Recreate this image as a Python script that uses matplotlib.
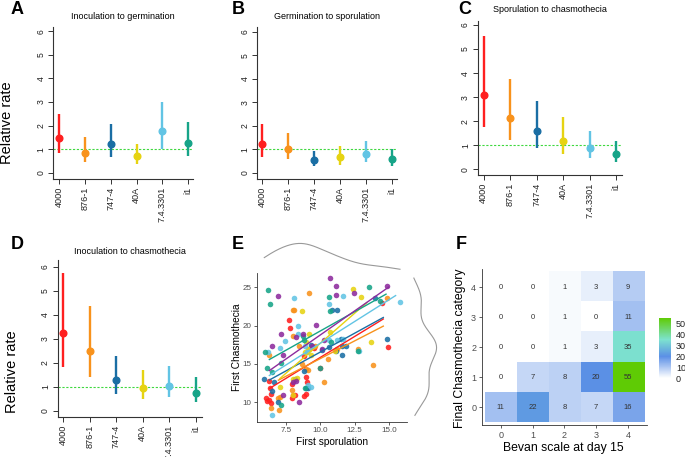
'''multi-panel figure: relative rates per strain, sporulation vs chasmothecia, Bevan heatmap'''
import numpy as np
import matplotlib
matplotlib.use('Agg')
import matplotlib.pyplot as plt
from matplotlib.colors import LinearSegmentedColormap

plt.rcParams['font.family'] = ['Liberation Sans', 'DejaVu Sans']

W, H = 685, 457

strains = ['4000', '876-1', '747-4', '40A', '7.4.3301', 'i1']
strain_colors = ['#FF1F1F', '#F8921C', '#1A6EA4', '#E6D312', '#62C4E4', '#17A488']
other_color = '#8D2B9D'

# A: inoculation to germination
germ_est = [1.46, 0.85, 1.20, 0.69, 1.77, 1.25]
germ_lo = [0.82, 0.47, 0.68, 0.37, 1.02, 0.71]
germ_hi = [2.48, 1.50, 2.05, 1.20, 3.00, 2.14]
# B: germination to sporulation
spor_est = [1.22, 1.01, 0.53, 0.65, 0.78, 0.57]
spor_lo = [0.68, 0.57, 0.28, 0.34, 0.44, 0.30]
spor_hi = [2.08, 1.71, 0.94, 1.15, 1.34, 1.01]
# C: sporulation to chasmothecia
chas_est = [3.10, 2.15, 1.59, 1.19, 0.89, 0.62]
chas_lo = [1.75, 1.22, 0.87, 0.64, 0.46, 0.32]
chas_hi = [5.54, 3.74, 2.85, 2.19, 1.58, 1.19]
# D: inoculation to chasmothecia
total_est = [3.25, 2.49, 1.28, 0.93, 1.04, 0.74]
total_lo = [1.83, 1.42, 0.69, 0.49, 0.57, 0.36]
total_hi = [5.72, 4.36, 2.28, 1.69, 1.86, 1.39]

# E: first sporulation (x) vs first chasmothecia (y), per group
x_4000 = [7.74, 7.81, 6.23, 6.30, 6.06, 6.23, 6.40, 6.38, 7.93, 8.98, 9.03, 9.95, 7.99, 8.17,
          7.93, 8.98, 8.79, 9.52, 14.50, 14.96, 8.79, 6.14]
y_4000 = [20.7, 19.7, 12.8, 11.85, 10.6, 10.3, 11.1, 9.9, 12.35, 13.3, 12.6, 14.5, 11.0, 10.95,
          10.6, 11.05, 16.0, 17.1, 23.0, 17.2, 10.8, 10.2]
x_876 = [9.15, 7.98, 8.10, 7.98, 6.28, 8.45, 9.20, 9.59, 10.54, 10.29, 13.85, 12.78, 14.85,
         6.40, 6.96, 7.03, 6.89, 7.91, 8.69, 9.13, 8.95, 11.20]
y_876 = [24.3, 22.1, 22.1, 18.65, 16.2, 17.4, 16.9, 17.4, 15.7, 12.6, 14.9, 17.0, 23.6,
         9.3, 9.0, 10.7, 10.6, 11.6, 15.0, 14.2, 14.3, 16.9]
x_747 = [5.91, 6.45, 6.60, 10.83, 11.20, 14.00, 14.90, 11.51, 11.56, 11.90, 11.13, 11.56,
         10.10, 9.32, 8.81, 8.96, 9.08, 8.16, 6.94, 10.60]
y_747 = [13.0, 11.5, 12.6, 22.0, 22.1, 23.6, 18.3, 18.3, 17.4, 17.3, 16.7, 16.2,
         16.8, 17.5, 14.1, 11.9, 11.85, 13.1, 10.1, 17.2]
x_40a = [12.40, 12.95, 8.66, 10.71, 13.68, 7.03, 7.99, 8.28, 9.20, 8.98, 8.91, 9.30, 11.08,
         8.04, 9.10]
y_40a = [24.8, 23.7, 21.95, 19.2, 17.9, 12.05, 13.1, 13.2, 18.9, 17.8, 16.6, 16.2, 16.7,
         10.95, 17.0]
x_7433 = [8.06, 11.63, 10.60, 15.82, 8.35, 8.35, 7.40, 7.03, 6.47, 11.24, 11.68, 12.83, 9.13,
          10.64, 6.16, 8.90, 9.00, 9.30]
y_7433 = [23.6, 23.9, 22.8, 23.1, 19.95, 18.9, 18.0, 17.1, 8.3, 18.1, 18.3, 16.7, 12.3,
          18.1, 16.6, 17.3, 16.5, 12.0]
x_i1 = [6.16, 6.30, 5.94, 6.11, 6.47, 13.58, 10.60, 10.74, 10.78, 9.96, 8.71, 12.78, 14.36,
        7.13, 8.84, 8.91, 7.10]
y_i1 = [24.7, 22.8, 16.6, 14.5, 14.0, 25.0, 23.7, 21.96, 17.8, 14.5, 18.65, 16.7, 23.2,
        9.7, 18.1, 11.9, 15.1]
x_other = [6.91, 10.68, 11.15, 11.13, 12.48, 14.85, 7.13, 6.50, 9.71, 8.74, 8.25, 9.42, 10.10,
           8.04, 8.42, 7.28, 8.25, 10.30, 7.30]
y_other = [23.9, 26.2, 25.2, 24.0, 24.25, 25.2, 18.87, 17.35, 20.04, 18.9, 18.5, 17.3, 16.9,
           12.6, 10.0, 10.95, 12.8, 18.1, 16.2]

# linear fits (order: 4000, 876-1, 747-4, 40A, 7.4.3301, i1, other)
fit_slope = [1.09, 0.92, 0.98, 1.56, 1.13, 1.00, 1.25]
fit_icpt = [4.95, 6.50, 6.75, 2.10, 6.40, 9.30, 6.28]
fit_xmin = [6.28, 6.94, 6.28, 7.05, 6.28, 6.28, 6.28]
fit_xmax = [14.6, 14.6, 14.6, 13.4, 15.5, 14.8, 15.0]

# F: counts, rows = final chasmothecia category 0..4, cols = Bevan scale 0..4
bevan_levels = [0, 1, 2, 3, 4]
chas_row0 = [11, 22, 8, 7, 16]
chas_row1 = [0, 7, 8, 20, 55]
chas_row2 = [0, 0, 1, 3, 35]
chas_row3 = [0, 0, 1, 0, 11]
chas_row4 = [0, 0, 1, 3, 9]

fig = plt.figure(figsize=(W / 100, H / 100), dpi=100)
fig.patch.set_facecolor('white')


def px_axes(l, t, r, b):
    '''axes from a pixel box (left, top, right, bottom)'''
    return fig.add_axes([l / W, 1 - b / H, (r - l) / W, (b - t) / H])


def rate_panel(l, t, r, b, y0, y6, c0, c5, est, lo, hi):
    '''R base-graphics style relative rate plot'''
    ax = px_axes(l, t, r, b)
    uy = (y0 - y6) / 6.0
    ax.set_ylim(-(b - y0) / uy, 6 + (y6 - t) / uy)
    uc = (c5 - c0) / 5.0
    ax.set_xlim(-(c0 - l) / uc, 5 + (r - c5) / uc)
    ax.axhline(1, color='#3FD83F', lw=0.8, ls=(0, (2, 1.5)), zorder=1)
    pos = np.arange(len(strains))
    for i in pos:
        ax.plot([i, i], [lo[i], hi[i]], color=strain_colors[i], lw=1.7,
                solid_capstyle='butt', zorder=2)
        ax.plot(i, est[i], 'o', ms=4.8, color=strain_colors[i], zorder=3)
    ax.set_xticks(pos)
    ax.set_xticklabels(strains, rotation=90, fontsize=6.6)
    ax.set_yticks(range(7))
    ax.set_yticklabels([str(v) for v in range(7)], rotation=90, va='center', fontsize=6.2)
    for s in ['top', 'right']:
        ax.spines[s].set_visible(False)
    for s in ['left', 'bottom']:
        ax.spines[s].set_color('#333333')
        ax.spines[s].set_linewidth(0.8)
    ax.tick_params(length=3.5, width=0.7, pad=2, color='#333333', labelcolor='#222222')
    ax.patch.set_alpha(0)
    return ax


rate_panel(53.3, 26.7, 193.3, 179.3, 172.7, 31.3, 59.0, 188.3, germ_est, germ_lo, germ_hi)
rate_panel(257.3, 26.7, 396.7, 179.3, 172.7, 32.0, 262.3, 391.7, spor_est, spor_lo, spor_hi)
rate_panel(477.7, 20.7, 621.7, 175.0, 169.3, 25.0, 483.7, 616.0, chas_est, chas_lo, chas_hi)
rate_panel(57.7, 260.0, 201.7, 416.7, 410.7, 266.7, 63.3, 195.7, total_est, total_lo, total_hi)

fig.text(123 / W, 1 - 16.5 / H, 'Inoculation to germination', ha='center', va='center', fontsize=6.5)
fig.text(327 / W, 1 - 16.5 / H, 'Germination to sporulation', ha='center', va='center', fontsize=6.5)
fig.text(550 / W, 1 - 10 / H, 'Sporulation to chasmothecia', ha='center', va='center', fontsize=6.5)
fig.text(130 / W, 1 - 251.7 / H, 'Inoculation to chasmothecia', ha='center', va='center', fontsize=6.5)
fig.text(7 / W, 1 - 123 / H, 'Relative rate', rotation=90, ha='center', va='center', fontsize=10.5)
fig.text(12 / W, 1 - 372 / H, 'Relative rate', rotation=90, ha='center', va='center', fontsize=10.5)

for letter, lx, ly in [('A', 17.5, 10), ('B', 238.5, 10), ('C', 465, 9),
                       ('D', 17.5, 244), ('E', 237.5, 244), ('F', 461, 244)]:
    fig.text(lx / W, 1 - ly / H, letter, ha='center', va='center', fontsize=13, fontweight='bold')

# E: scatter with marginal densities
groups = [(x_4000, y_4000), (x_876, y_876), (x_747, y_747), (x_40a, y_40a),
          (x_7433, y_7433), (x_i1, y_i1), (x_other, y_other)]
group_colors = strain_colors + [other_color]

axE = px_axes(257.3, 272.7, 406.7, 421.7)
axE.set_xlim(5.40, 16.31)
axE.set_ylim(7.47, 26.9)
for (gx, gy), c in zip(groups, group_colors):
    axE.scatter(gx, gy, s=16, color=c, alpha=0.88, linewidths=0, zorder=2)
for k, c in enumerate(group_colors):
    xs = np.array([fit_xmin[k], fit_xmax[k]])
    axE.plot(xs, fit_icpt[k] + fit_slope[k] * xs, color=c, lw=1.0, zorder=3)
axE.set_xticks([7.5, 10.0, 12.5, 15.0])
axE.set_xticklabels(['7.5', '10.0', '12.5', '15.0'])
axE.set_yticks([10, 15, 20, 25])
for s in ['top', 'right']:
    axE.spines[s].set_visible(False)
for s in ['left', 'bottom']:
    axE.spines[s].set_color('#333333')
    axE.spines[s].set_linewidth(0.6)
axE.tick_params(length=2.5, width=0.6, pad=1.5, color='#444444', labelcolor='#4D4D4D', labelsize=5.8)
fig.text(236.7 / W, 1 - 347 / H, 'First Chasmothecia', rotation=90, ha='center', va='center', fontsize=7.3)
fig.text(332 / W, 1 - 442 / H, 'First sporulation', ha='center', va='center', fontsize=7.3)


def kde(values, adjust=1.6):
    '''gaussian density, bw.nrd0 times adjust, over the data range'''
    v = np.asarray(values, dtype=float)
    q75, q25 = np.percentile(v, [75, 25])
    bw = adjust * 0.9 * min(v.std(ddof=1), (q75 - q25) / 1.34) * len(v) ** -0.2
    grid = np.linspace(v.min(), v.max(), 400)
    dens = np.exp(-0.5 * ((grid[:, None] - v[None, :]) / bw) ** 2).sum(axis=1)
    dens /= len(v) * bw * np.sqrt(2 * np.pi)
    return grid, dens


all_x = np.concatenate([g[0] for g in groups])
all_y = np.concatenate([g[1] for g in groups])

axTop = px_axes(257.3, 242, 406.7, 272)
gx, dx = kde(all_x)
axTop.plot(gx, dx, color='#999999', lw=0.8)
axTop.set_xlim(5.40, 16.31)
axTop.set_ylim(0, dx.max() * 1.05)
axTop.axis('off')

axRight = px_axes(407.7, 272.7, 438, 421.7)
gy, dy = kde(all_y, adjust=1.2)
axRight.plot(dy, gy, color='#999999', lw=0.8)
axRight.set_ylim(7.47, 26.9)
axRight.set_xlim(0, dy.max() * 1.05)
axRight.axis('off')

# F: heatmap
counts = np.array([chas_row0, chas_row1, chas_row2, chas_row3, chas_row4])
cmap = LinearSegmentedColormap.from_list(
    'bevan', [(0.0, '#FFFFFF'), (0.36, '#5B8FE6'), (0.64, '#7DE2CF'), (1.0, '#5FCB05')])
axF = px_axes(481.7, 269.3, 647.1, 425.3)
im = axF.imshow(counts, origin='lower', cmap=cmap, vmin=0, vmax=55, aspect='auto',
                extent=(-0.5, 4.5, -0.5, 4.5), interpolation='nearest')
for r in range(counts.shape[0]):
    for c in range(counts.shape[1]):
        axF.text(c, r, str(counts[r, c]), ha='center', va='center', fontsize=5.5, color='#333333')
axF.set_xlim(-0.6, 4.6)
axF.set_ylim(-0.6, 4.6)
axF.set_xticks(bevan_levels)
axF.set_yticks(bevan_levels)
for s in ['top', 'right']:
    axF.spines[s].set_visible(False)
for s in ['left', 'bottom']:
    axF.spines[s].set_color('#333333')
    axF.spines[s].set_linewidth(0.6)
axF.tick_params(length=2.5, width=0.6, pad=1.5, color='#444444', labelcolor='#4D4D4D', labelsize=6.5)
fig.text(459.5 / W, 1 - 348 / H, 'Final Chasmothecia category', rotation=90, ha='center',
         va='center', fontsize=8.8)
fig.text(563 / W, 1 - 447.5 / H, 'Bevan scale at day 15', ha='center', va='center', fontsize=8.8)

cax = px_axes(659, 318, 671, 378)
cb = fig.colorbar(im, cax=cax, ticks=[0, 10, 20, 30, 40, 50])
cb.outline.set_visible(False)
cax.tick_params(length=2, width=0.5, color='white', labelsize=6.5, pad=1.5, labelcolor='#222222')

fig.savefig('out.png', dpi=100, facecolor='white')
